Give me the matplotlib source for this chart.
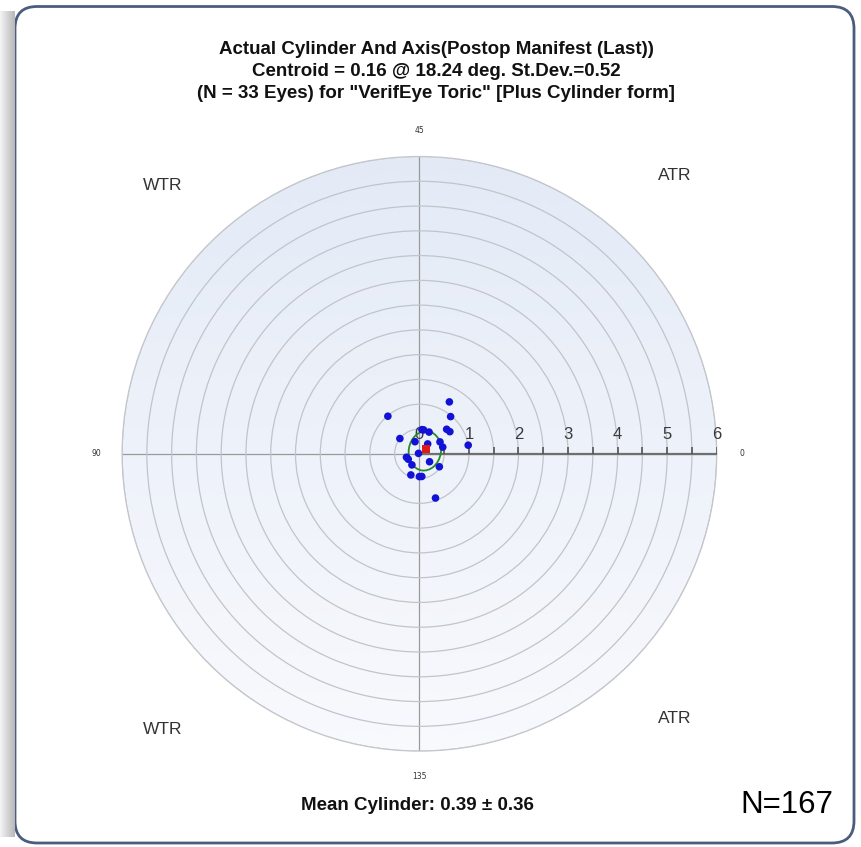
"""
Double-angle plot of postop cylinder (VerifEye Toric), redrawn from a screenshot.
"""

import numpy as np
import matplotlib
matplotlib.use("Agg")
import matplotlib.pyplot as plt
from matplotlib.colors import LinearSegmentedColormap
from matplotlib.patches import Ellipse, FancyBboxPatch

# cylinder magnitude (D) and axis (deg) per eye
cyl = [0.99, 1.21, 0.98, 0.74, 0.76, 0.49, 0.48, 0.49, 0.50, 0.26, 0.48,
       0.49, 0.26, 1.00, 0.02, 0.27, 0.25, 0.27, 0.26, 0.48, 0.46, 0.46,
       0.46, 0.95]
axis_deg = [65, 30, 25, 21, 18, 42, 33, 40, 71, 55, 15,
            8, 25, 5, 77, 97.5, 103, 118, 161, 163.5, 124, 135,
            138, 145]

centroid_cyl = 0.16
centroid_axis = 18.24

# 95% ellipse (cartesian double-angle units, D)
ell_center = (0.11, 0.06)
ell_width = 0.65
ell_height = 0.80
ell_angle = -10

ring_steps = np.arange(0.5, 6.01, 0.5)
scale_labels = [0, 1, 2, 3, 4, 5, 6]
angle_ticks = [0, 90, 180, 270]
angle_labels = ["0", "45", "90", "135"]

title_lines = [
    "Actual Cylinder And Axis(Postop Manifest (Last))",
    "Centroid = 0.16 @ 18.24 deg. St.Dev.=0.52",
    '(N = 33 Eyes) for "VerifEye Toric" [Plus Cylinder form]',
]
mean_text = "Mean Cylinder: 0.39 \u00b1 0.36"
n_text = "N=167"

W, H = 861, 847
SANS = ["Liberation Sans", "DejaVu Sans"]


def fx(px):
    return px / W


def fy(py):
    return 1 - py / H


fig = plt.figure(figsize=(W / 100, H / 100), dpi=100)
fig.patch.set_facecolor("white")

# left drop shadow + rounded frame
sh = fig.add_axes([0, 0.012, 15 / W, 0.975])
sh.imshow(np.linspace(0, 1, 50)[None, :], aspect="auto",
          cmap=LinearSegmentedColormap.from_list("sh", ["#f4f4f4", "#b8b8b8"]))
sh.set_axis_off()
frame = FancyBboxPatch((0.15, 0.04), 8.39, 8.365,
                       boxstyle="round,pad=0,rounding_size=0.22",
                       transform=fig.dpi_scale_trans, facecolor="none",
                       edgecolor="#4b5d7e", linewidth=2.0, zorder=-1)
fig.patches.append(frame)

# polar plot area
cx, cy, rad = 419.4, 453.8, 297.3
ax = fig.add_axes([fx(cx - rad), fy(cy + rad), 2 * rad / W, 2 * rad / H],
                  projection="polar")
ax.set_facecolor("none")
ax.set_theta_zero_location("E")

tt, rr = np.meshgrid(np.linspace(0, 2 * np.pi, 181), np.linspace(0, 6, 31))
grad = LinearSegmentedColormap.from_list("bg", ["#f8f9fd", "#e3eaf6"])
ax.pcolormesh(tt, rr, rr * np.sin(tt), shading="gouraud", cmap=grad, zorder=0)

ax.set_ylim(0, 6)
ax.set_rgrids(ring_steps, labels=[])
ax.set_thetagrids(angle_ticks, labels=angle_labels, fontsize=5.5, color="#333333")
ax.tick_params(axis="x", pad=8)
ax.yaxis.grid(True, color="#c2c4ca", linewidth=0.9)
ax.xaxis.grid(True, color="#9a9a9a", linewidth=0.9)
ax.spines["polar"].set_color("#c4c6cc")
ax.spines["polar"].set_linewidth(0.9)

# scale along 0 deg
ax.plot([0, 0], [0, 6], color="#707070", linewidth=1.6, zorder=3)
ax.plot(np.zeros(len(ring_steps)), ring_steps, linestyle="none", marker=2,
        markersize=5, markeredgewidth=1.2, color="#555555", zorder=3)
for v in scale_labels:
    ax.annotate(str(v), (0, v), xytext=(0, 14), textcoords="offset points",
                ha="center", va="center", fontsize=12, color="#3a3a3a",
                family=SANS, zorder=3)

# ellipse in cartesian (projected) coordinates
ell_tr = ax.transProjectionAffine + ax.transWedge + ax.transAxes
ax.add_patch(Ellipse(ell_center, ell_width, ell_height, angle=ell_angle,
                     transform=ell_tr, fill=False, edgecolor="#2a8a2a",
                     linewidth=1.3, zorder=4))

ax.scatter(np.deg2rad(2 * np.array(axis_deg)), cyl, s=30, color="#1212d6",
           edgecolors="none", zorder=5)
ax.scatter([np.deg2rad(2 * centroid_axis)], [centroid_cyl], s=30, marker="s",
           color="#e01818", edgecolors="none", zorder=6)

# text
for line, py in zip(title_lines, [50, 71, 93.5]):
    fig.text(fx(436), fy(py), line, ha="center", va="center", fontsize=13.5,
             fontweight="bold", family=SANS, color="#111111")

for label, px, py in [("WTR", 163, 185), ("ATR", 675, 175),
                      ("WTR", 163, 729), ("ATR", 675, 718.5)]:
    fig.text(fx(px), fy(py), label, ha="center", va="center", fontsize=12.5,
             family=SANS, color="#333333")

fig.text(fx(417), fy(805), mean_text, ha="center", va="center", fontsize=13.5,
         fontweight="bold", family=SANS, color="#111111")
fig.text(fx(787), fy(805), n_text, ha="center", va="center", fontsize=22.5,
         family=SANS, color="black")

fig.savefig("out.png", dpi=100)
